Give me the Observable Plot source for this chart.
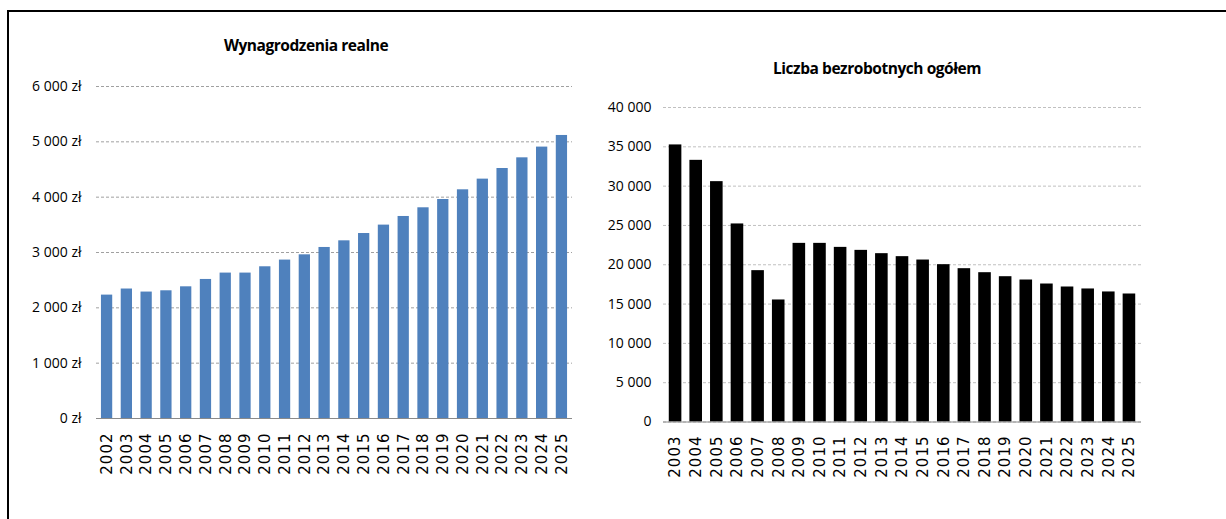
<!DOCTYPE html>
<html><head><meta charset="utf-8">
<script src="https://cdn.jsdelivr.net/npm/d3@7"></script>
<script src="https://cdn.jsdelivr.net/npm/@observablehq/plot@0.6"></script>
<style>
body{margin:0;background:#fff;width:1226px;height:519px;overflow:hidden;position:relative;font-family:"Open Sans",sans-serif}
#frame{position:absolute;left:7px;top:10px;width:1240px;height:530px;border-top:2px solid #000;border-left:2px solid #000}
.title{position:absolute;font-weight:bold;font-size:15.5px;letter-spacing:-0.45px;transform:translate(-50%,-50%);white-space:nowrap;color:#000;font-family:"Open Sans",sans-serif}
#c1{position:absolute;left:0;top:0}
#c2{position:absolute;left:600px;top:0}
</style></head><body>
<div id="frame"></div>
<div id="c1"></div><div id="c2"></div>
<div class="title" style="left:306px;top:45px">Wynagrodzenia realne</div>
<div class="title" style="left:877px;top:68px">Liczba bezrobotnych ogółem</div>
<script>
const wageYears = ["2002","2003","2004","2005","2006","2007","2008","2009","2010","2011","2012","2013","2014","2015","2016","2017","2018","2019","2020","2021","2022","2023","2024","2025"];
const wageValues = [2230,2340,2285,2308,2380,2513,2628,2628,2742,2863,2958,3091,3211,3343,3495,3651,3808,3958,4133,4326,4518,4711,4905,5115];
const wageTicks = [0,1000,2000,3000,4000,5000,6000];

const unempYears = ["2003","2004","2005","2006","2007","2008","2009","2010","2011","2012","2013","2014","2015","2016","2017","2018","2019","2020","2021","2022","2023","2024","2025"];
const unempValues = [35240,33280,30570,25190,19250,15520,22720,22720,22210,21830,21410,21030,20600,20010,19500,18990,18480,18060,17550,17170,16920,16540,16280];
const unempTicks = [0,5000,10000,15000,20000,25000,30000,35000,40000];

const grp = v => String(v).replace(/\B(?=(\d{3})+(?!\d))/g, "\u00a0");
const wages = wageYears.map((y,i) => ({year:y, value:wageValues[i]}));
const unemp = unempYears.map((y,i) => ({year:y, value:unempValues[i]}));

function fixLabels(svg){
  d3.select(svg).selectAll("g[aria-label='x-axis tick label'] text")
    .attr("letter-spacing","1px");
}

const p1 = Plot.plot({
  width:600, height:519,
  marginTop:86, marginBottom:101, marginLeft:96, marginRight:28,
  style:{fontFamily:"Open Sans, sans-serif", fontSize:"14px", color:"#000", background:"transparent"},
  x:{domain:wageYears, paddingInner:0.43, paddingOuter:0.25, round:false, label:null},
  y:{domain:[0,6000], label:null},
  marks:[
    Plot.gridY(wageTicks,{stroke:"#a0a0a0", strokeOpacity:1, strokeDasharray:"3,2"}),
    Plot.barY(wages,{x:"year", y:"value", fill:"#4f81bd"}),
    Plot.ruleY([0],{stroke:"#8a8a8a"}),
    Plot.axisY(wageTicks,{tickSize:0, tickPadding:15, tickFormat:d => grp(d) + " zł", fontSize:14, fill:"#000"}),
    Plot.axisX({tickSize:0, tickPadding:14, tickRotate:-90, fontFamily:"DejaVu Sans", fontSize:15, fill:"#000"})
  ]
});
fixLabels(p1);
document.getElementById("c1").append(p1);

const p2 = Plot.plot({
  width:626, height:519,
  marginTop:107, marginBottom:97.5, marginLeft:63, marginRight:85,
  style:{fontFamily:"Open Sans, sans-serif", fontSize:"14px", color:"#000", background:"transparent"},
  x:{domain:unempYears, paddingInner:0.39, paddingOuter:0.28, round:false, label:null},
  y:{domain:[0,40000], label:null},
  marks:[
    Plot.gridY(unempTicks,{stroke:"#c0c0c0", strokeOpacity:1, strokeDasharray:"3,2"}),
    Plot.barY(unemp,{x:"year", y:"value", fill:"#000"}),
    Plot.ruleY([0],{stroke:"#8a8a8a"}),
    Plot.axisY(unempTicks,{tickSize:0, tickPadding:12, tickFormat:d => grp(d), fontSize:14, fill:"#000"}),
    Plot.axisX({tickSize:0, tickPadding:13.5, tickRotate:-90, fontFamily:"DejaVu Sans", fontSize:15, fill:"#000"})
  ]
});
fixLabels(p2);
document.getElementById("c2").append(p2);
</script>
</body></html>
